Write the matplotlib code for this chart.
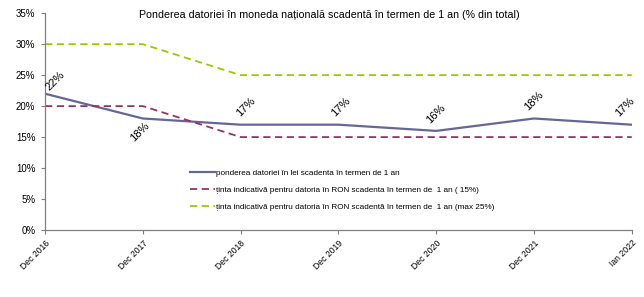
import matplotlib
matplotlib.use("Agg")
import matplotlib.pyplot as plt
from matplotlib.ticker import FuncFormatter

plt.rcParams['font.family'] = ['Liberation Sans', 'DejaVu Sans']

categories = ["Dec 2016", "Dec 2017", "Dec 2018", "Dec 2019", "Dec 2020", "Dec 2021", "Ian 2022"]
pondere = [22, 18, 17, 17, 16, 18, 17]
tinta15 = [20, 20, 15, 15, 15, 15, 15]
tinta25 = [30, 30, 25, 25, 25, 25, 25]
label_offsets = [(7, 9.5), (-2, -9.5), (4, 12.5), (2, 12.5), (0, 12.5), (0, 12.5), (-5, 13)]

fig = plt.figure(figsize=(6.44, 2.97), dpi=100)
ax = fig.add_axes([0.07, 0.2256, 0.911, 0.730])
x = list(range(len(categories)))

ax.plot(x, pondere, color="#666699", lw=1.6, label="ponderea datoriei în lei scadenta în termen de 1 an")
ax.plot(x, tinta15, color="#993366", lw=1.3, ls=(0, (4, 2.5)), label="ținta indicativă pentru datoria în RON scadenta în termen de  1 an ( 15%)")
ax.plot(x, tinta25, color="#99cc00", lw=1.3, ls=(0, (4, 2.5)), label="ținta indicativă pentru datoria în RON scadentă în termen de  1 an (max 25%)")

for xi, v, off in zip(x, pondere, label_offsets):
    ax.annotate(f"{v}%", (xi, v), xytext=off, textcoords="offset points",
                rotation=45, ha="center", va="center", fontsize=8, annotation_clip=False)

ax.set_xlim(0, len(categories) - 1)
ax.set_ylim(0, 35)
ax.set_yticks(range(0, 36, 5))
ax.yaxis.set_major_formatter(FuncFormatter(lambda v, p: f"{int(v)}%"))
ax.set_xticks(x)
ax.set_xticklabels(categories, rotation=45, ha="right", rotation_mode="anchor", fontsize=6.2)
ax.tick_params(axis="y", labelsize=7, length=3, color="#808080", pad=4)
ax.tick_params(axis="x", length=3, color="#808080", pad=3)
for s in ["top", "right"]:
    ax.spines[s].set_visible(False)
for s in ["left", "bottom"]:
    ax.spines[s].set_color("#808080")
    ax.spines[s].set_linewidth(0.9)

fig.text(0.512, 0.948, "Ponderea datoriei în moneda națională scadentă în termen de 1 an (% din total)",
         ha="center", va="center", fontsize=7.65)

leg = ax.legend(loc="upper left", bbox_to_anchor=(0.242, 0.297), frameon=False, fontsize=5.9,
                handlelength=3.0, handletextpad=0.1, labelspacing=1.15, borderaxespad=0)

fig.savefig("out.png", dpi=100)
